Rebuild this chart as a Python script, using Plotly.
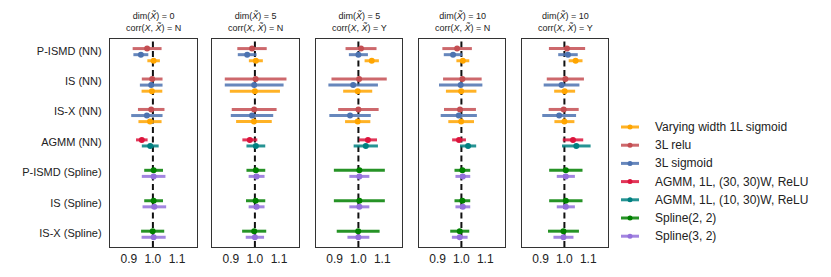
import plotly.graph_objects as go

# ---------------- data ----------------
row_labels = ["P-ISMD (NN)", "IS (NN)", "IS-X (NN)", "AGMM (NN)",
              "P-ISMD (Spline)", "IS (Spline)", "IS-X (Spline)"]
panel_titles = [
    "dim(<i>X\u0303</i>) = 0<br>corr(<i>X</i>, <i>X\u0303</i>) = N",
    "dim(<i>X\u0303</i>) = 5<br>corr(<i>X</i>, <i>X\u0303</i>) = N",
    "dim(<i>X\u0303</i>) = 5<br>corr(<i>X</i>, <i>X\u0303</i>) = Y",
    "dim(<i>X\u0303</i>) = 10<br>corr(<i>X</i>, <i>X\u0303</i>) = N",
    "dim(<i>X\u0303</i>) = 10<br>corr(<i>X</i>, <i>X\u0303</i>) = Y",
]
x_ticks = [0.9, 1.0, 1.1]
x_tick_labels = ["0.9", "1.0", "1.1"]

# NN rows (P-ISMD, IS, IS-X), one list per panel
varying_mean = [[1.003, 0.996, 0.988], [1.004, 1.000, 0.996], [1.056, 0.997, 0.997],
                [1.006, 0.999, 0.999], [1.047, 1.001, 1.000]]
varying_err = [[0.026, 0.043, 0.048], [0.029, 0.104, 0.074], [0.030, 0.061, 0.053],
               [0.027, 0.064, 0.054], [0.029, 0.044, 0.042]]
relu_mean = [[0.976, 0.997, 0.993], [0.988, 1.003, 0.997], [1.011, 1.003, 1.000],
             [0.982, 1.004, 0.994], [1.011, 1.004, 0.997]]
relu_err = [[0.060, 0.043, 0.055], [0.061, 0.128, 0.093], [0.065, 0.116, 0.085],
            [0.062, 0.081, 0.067], [0.076, 0.078, 0.063]]
sigm_mean = [[0.950, 0.993, 0.975], [0.968, 0.997, 0.988], [1.000, 0.978, 0.965],
             [0.965, 0.997, 0.989], [1.015, 0.988, 0.978]]
sigm_err = [[0.031, 0.047, 0.065], [0.039, 0.122, 0.088], [0.040, 0.104, 0.087],
            [0.039, 0.091, 0.076], [0.041, 0.075, 0.071]]
# AGMM row
agmm30_mean = [0.954, 0.979, 1.040, 0.990, 1.036]
agmm30_err = [0.024, 0.031, 0.038, 0.029, 0.043]
agmm10_mean = [0.989, 1.004, 1.031, 1.028, 1.050]
agmm10_err = [0.035, 0.039, 0.051, 0.034, 0.060]
# Spline rows (P-ISMD, IS, IS-X)
spl22_mean = [[1.003, 1.003, 0.999], [1.004, 1.003, 0.997], [1.004, 1.004, 0.999],
              [1.004, 1.004, 0.993], [1.006, 1.006, 0.996]]
spl22_err = [[0.039, 0.039, 0.048], [0.039, 0.040, 0.050], [0.107, 0.107, 0.090],
             [0.033, 0.033, 0.040], [0.070, 0.070, 0.065]]
spl32_mean = [[1.003, 1.006, 1.003], [1.007, 1.007, 1.000], [1.004, 1.004, 1.000],
              [1.006, 1.006, 0.993], [1.006, 1.006, 0.996]]
spl32_err = [[0.049, 0.049, 0.050], [0.033, 0.033, 0.038], [0.042, 0.042, 0.046],
             [0.031, 0.031, 0.033], [0.038, 0.038, 0.042]]

# series: name, color, bar color, means, errs, rows, offset
series = [
    ("Varying width 1L sigmoid", "#FFA500", "rgba(255,165,0,0.85)", varying_mean, varying_err, [0, 1, 2], 0.33),
    ("3L relu", "#C44E52", "rgba(196,78,82,0.85)", relu_mean, relu_err, [0, 1, 2], -0.07),
    ("3L sigmoid", "#4C72B0", "rgba(76,114,176,0.85)", sigm_mean, sigm_err, [0, 1, 2], 0.13),
    ("AGMM, 1L, (30, 30)W, ReLU", "#DC143C", "rgba(220,20,60,0.85)",
     [[v] for v in agmm30_mean], [[v] for v in agmm30_err], [3], -0.07),
    ("AGMM, 1L, (10, 30)W, ReLU", "#008080", "rgba(0,128,128,0.85)",
     [[v] for v in agmm10_mean], [[v] for v in agmm10_err], [3], 0.13),
    ("Spline(2, 2)", "#008000", "rgba(0,128,0,0.85)", spl22_mean, spl22_err, [4, 5, 6], -0.07),
    ("Spline(3, 2)", "#9370DB", "rgba(147,112,219,0.85)", spl32_mean, spl32_err, [4, 5, 6], 0.13),
]

W, H = 831, 277
panel_px = [(110, 197), (212, 299), (316, 402), (419, 505), (522, 608)]
top_px, bot_px = 39, 247

fig = go.Figure()

for p in range(5):
    xa = "x" if p == 0 else f"x{p+1}"
    ya = "y" if p == 0 else f"y{p+1}"
    for name, col, barcol, means, errs, rows, off in series:
        fig.add_trace(go.Scatter(
            x=means[p], y=[r + off for r in rows],
            mode="markers", name=name, showlegend=False,
            marker=dict(color=col, size=6),
            error_x=dict(type="data", array=errs[p], color=barcol,
                         thickness=3, width=0),
            xaxis=xa, yaxis=ya,
        ))
    fig.add_shape(type="line", x0=1.0, x1=1.0, y0=0, y1=1, xref=xa, yref=f"{ya} domain",
                  line=dict(color="#111111", width=2, dash="6px,3.5px"), layer="below")

ydom = [(H - bot_px) / H, (H - top_px) / H]
axes = {}
for p, (l, r) in enumerate(panel_px):
    sfx = "" if p == 0 else str(p + 1)
    axes[f"xaxis{sfx}"] = dict(
        domain=[l / W, r / W], range=[0.822, 1.183], anchor=f"y{sfx}",
        tickvals=x_ticks, ticktext=x_tick_labels, ticks="", showgrid=False, zeroline=False,
        showline=True, mirror=True, linecolor="#333333", linewidth=1.3, automargin=False,
        tickfont=dict(size=12, color="#222222"))
    axes[f"yaxis{sfx}"] = dict(
        domain=ydom, range=[6.45, -0.385], anchor=f"x{sfx}",
        tickvals=list(range(7)), ticktext=row_labels if p == 0 else [""] * 7,
        showticklabels=(p == 0), ticks="", showgrid=False, zeroline=False,
        showline=True, mirror=True, linecolor="#333333", linewidth=1.3, automargin=False,
        tickfont=dict(size=11, color="#222222"), ticklabelstandoff=5)
    fig.add_annotation(text=panel_titles[p], x=(l + r) / 2 / W, y=(H - 8) / H,
                       xref="paper", yref="paper", xanchor="center", yanchor="top",
                       showarrow=False, font=dict(size=9, color="#222222"))

# legend (drawn as paper-space key)
for i, (name, col, barcol, *_rest) in enumerate(series):
    yp = (H - (127 + 18.2 * i)) / H
    fig.add_shape(type="line", xref="paper", yref="paper",
                  x0=621 / W, x1=639 / W, y0=yp, y1=yp,
                  line=dict(color=barcol, width=3))
    fig.add_shape(type="circle", xref="paper", yref="paper",
                  x0=627.5 / W, x1=632.5 / W, y0=yp - 2.5 / H, y1=yp + 2.5 / H,
                  fillcolor=col, line=dict(color=col, width=0))
    fig.add_annotation(text=name, x=653 / W, y=yp, xref="paper", yref="paper",
                       xanchor="left", yanchor="middle", showarrow=False,
                       font=dict(size=12, color="#222222"))

fig.update_layout(
    width=W, height=H, margin=dict(l=0, r=0, t=0, b=0, autoexpand=False),
    paper_bgcolor="white", plot_bgcolor="white", showlegend=False,
    font=dict(family="Liberation Sans, Arial, sans-serif", color="#222222"),
    **axes,
)

fig.write_html("out.html", config={"displayModeBar": False},
               post_script="document.body.style.margin='0px';")
